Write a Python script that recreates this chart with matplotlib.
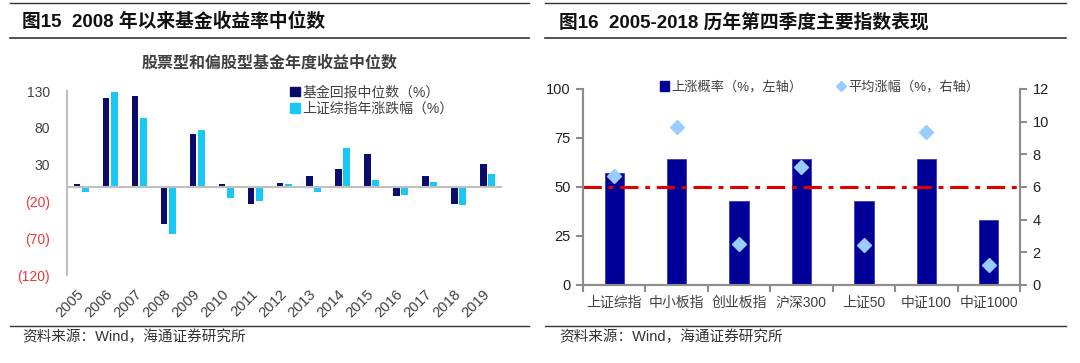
import matplotlib
matplotlib.use("Agg")
import matplotlib.pyplot as plt
from matplotlib.lines import Line2D
from matplotlib.patches import Patch
import numpy as np

plt.rcParams['font.family'] = ['Liberation Sans', 'Noto Sans CJK SC', 'DejaVu Sans']

# left chart data: annual median fund return vs SSE composite change (%)
years = [str(y) for y in range(2005, 2020)]
fund_median = [3, 121, 123, -51, 71, 3, -23, 5, 15, 24, 45, -13, 15, -23, 31]
sse_change = [-7, 129, 93, -64, 77, -15, -20, 3, -7, 53, 9, -11, 7, -25, 17]
left_ticks = [-120, -70, -20, 30, 80, 130]

# right chart data: Q4 performance of major indices 2005-2018
indices = ['上证综指', '中小板指', '创业板指', '沪深300', '上证50', '中证100', '中证1000']
up_prob = [57.14, 64.29, 42.86, 64.29, 42.86, 64.29, 33.33]
avg_gain = [6.70, 9.65, 2.52, 7.23, 2.46, 9.38, 1.23]

NAVY = '#0b0b6e'
CYAN = '#1ac8f8'
BAR_BLUE = '#000099'
DIAMOND = '#99ccff'
GREY = '#c0c0c0'
AXIS_GREY = '#8c8c8c'
TEXT = '#404040'
NEG_RED = '#e8383d'

fig = plt.figure(figsize=(10.8, 3.63), dpi=100)


def panel_frame(x0, x1, tx, title):
    fig.add_artist(Line2D([x0, x1], [0.992, 0.992], color='#333333', lw=1.0))
    fig.add_artist(Line2D([x0, x1], [0.895, 0.895], color='#333333', lw=1.2))
    fig.text(tx, 0.939, title, fontsize=13.5, fontweight='bold', va='center', ha='left', color='#111111')
    fig.add_artist(Line2D([x0, x1], [0.102, 0.102], color='#333333', lw=1.0))
    fig.text(tx, 0.072, '资料来源：Wind，海通证券研究所', fontsize=10.5, va='center', ha='left', color='#333333')


panel_frame(0.009, 0.490, 0.0204, '图15  2008 年以来基金收益率中位数')
panel_frame(0.505, 0.987, 0.5176, '图16  2005-2018 历年第四季度主要指数表现')

# ---- left chart
ax1 = fig.add_axes([0.0618, 0.2424, 0.403, 0.5069])
x = np.arange(len(years))
ax1.bar(x - 0.14, fund_median, 0.22, color=NAVY)
ax1.bar(x + 0.14, sse_change, 0.22, color=CYAN)
ax1.axhline(0, color=GREY, lw=1.5)
ax1.set_xlim(-0.5, len(years) - 0.5)
ax1.set_ylim(-120, 130)
for s in ['top', 'right', 'bottom']:
    ax1.spines[s].set_visible(False)
ax1.spines['left'].set_color(GREY)
ax1.spines['left'].set_linewidth(1.5)
ax1.set_yticks(left_ticks)
ax1.set_yticklabels([f'({abs(v)})' if v < 0 else str(v) for v in left_ticks])
for lab, v in zip(ax1.get_yticklabels(), left_ticks):
    lab.set_color(NEG_RED if v < 0 else TEXT)
ax1.tick_params(axis='y', length=0, pad=12, labelsize=10)
ax1.set_xticks(x)
ax1.set_xticklabels(years, rotation=45, ha='right', va='center', rotation_mode='anchor')
ax1.tick_params(axis='x', length=0, pad=12, labelsize=10.5, labelcolor=TEXT)

fig.text(0.2495, 0.826, '股票型和偏股型基金年度收益中位数', fontsize=11.5, fontweight='bold',
         ha='center', va='center', color=TEXT)
ax1.legend(handles=[Patch(color=NAVY, label='基金回报中位数（%）'),
                    Patch(color=CYAN, label='上证综指年涨跌幅（%）')],
           loc='upper left', bbox_to_anchor=(0.262, 0.784), bbox_transform=fig.transFigure,
           frameon=False, fontsize=10, handlelength=0.7, handleheight=0.7,
           handletextpad=0.2, labelspacing=0.2, borderpad=0, labelcolor=TEXT)

# ---- right chart
ax2 = fig.add_axes([0.5398, 0.2149, 0.4046, 0.540])
xr = np.arange(len(indices))
ax2.bar(xr, up_prob, 0.31, color=BAR_BLUE, edgecolor='#3a3ab8', lw=0.6)
ax2.axhline(50, color='#e00000', lw=2.2, linestyle=(0, (6, 2.2, 1.6, 2.2)))
ax2.set_xlim(-0.5, len(indices) - 0.5)
ax2.set_ylim(0, 100)
ax2.set_yticks([0, 25, 50, 75, 100])
ax2.set_xticks(xr)
ax2.set_xticklabels(indices)
ax2.set_xticks(np.arange(len(indices) + 1) - 0.5, minor=True)
ax2.tick_params(axis='x', which='major', length=0, pad=8, labelsize=10, labelcolor=TEXT)
ax2.tick_params(axis='x', which='minor', length=5, width=1.5, color=AXIS_GREY, direction='out')
ax2.tick_params(axis='y', length=5, width=1.5, color=AXIS_GREY, pad=4, labelsize=10.5, labelcolor='#222222')
ax2.spines['top'].set_visible(False)
for s in ['left', 'right', 'bottom']:
    ax2.spines[s].set_color(AXIS_GREY)
    ax2.spines[s].set_linewidth(1.5)

ax3 = ax2.twinx()
ax3.plot(xr, avg_gain, linestyle='none', marker='D', ms=7.5, color=DIAMOND, zorder=5)
ax3.set_ylim(0, 12)
ax3.set_yticks(range(0, 13, 2))
ax3.tick_params(axis='y', length=5, width=1.5, color=AXIS_GREY, pad=4, labelsize=10.5, labelcolor='#222222')
ax3.spines['top'].set_visible(False)
for s in ['left', 'right', 'bottom']:
    ax3.spines[s].set_color(AXIS_GREY)
    ax3.spines[s].set_linewidth(1.5)

ax3.legend(handles=[Patch(color=BAR_BLUE, label='上涨概率（%，左轴）'),
                    Line2D([], [], linestyle='none', marker='D', ms=5, color=DIAMOND,
                           label='平均涨幅（%，右轴）')],
           loc='center', bbox_to_anchor=(0.759, 0.760), bbox_transform=fig.transFigure,
           ncol=2, frameon=False, fontsize=9.5, handlelength=0.7, handleheight=0.7,
           handletextpad=0.2, columnspacing=2.6, borderpad=0, labelcolor=TEXT)

fig.savefig('out.png', dpi=100)
